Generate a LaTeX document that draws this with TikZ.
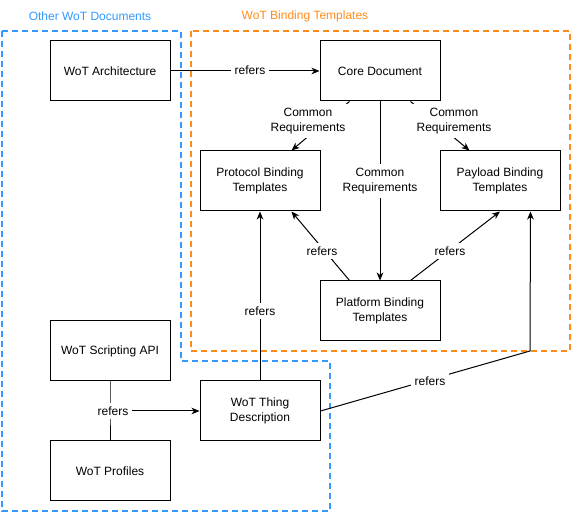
\documentclass[tikz,border=0pt]{standalone}
\usepackage{fontspec}
\setmainfont{Liberation Sans}
\usetikzlibrary{arrows.meta,calc}
\definecolor{wotblue}{HTML}{3399FF}
\definecolor{wotorange}{HTML}{FF8C1A}
\begin{document}
\begin{tikzpicture}[x=0.75pt,y=-0.75pt, font=\fontsize{9}{11}\selectfont,
 box/.style={draw, line width=0.75pt, fill=white, minimum width=90pt, minimum height=45pt, align=center, inner sep=0pt},
 conn/.style={line width=0.75pt, -{Stealth[length=6pt,width=5pt,inset=1.8pt]}},
 plain/.style={line width=0.75pt},
 lbl/.style={fill=white, inner xsep=3pt, inner ysep=3pt, align=center},
 region/.style={line width=1.5pt, dash pattern=on 4.5pt off 3pt}]
\useasboundingbox (0,0) rectangle (572,513);

% regions
\draw[region, wotblue] (2,31) -- (181,31) -- (181,361) -- (330,361) -- (330,511) -- (2,511) -- cycle;
\draw[region, wotorange] (191,31) rectangle (570,351);
\node[text=wotblue] (tblue) at (90,16) {Other WoT Documents};
\node[text=wotorange] (torange) at (305,16) {WoT Binding Templates};

% boxes
\node[box] (arch) at (110,71) {WoT Architecture};
\node[box] (core) at (380,71) {Core Document};
\node[box] (prot) at (260,181) {Protocol Binding\\Templates};
\node[box] (pay) at (500,181) {Payload Binding\\Templates};
\node[box] (plat) at (380,311) {Platform Binding\\Templates};
\node[box] (script) at (110,351) {WoT Scripting API};
\node[box] (td) at (260,411) {WoT Thing\\Description};
\node[box] (prof) at (110,471) {WoT Profiles};

% connectors
\draw[conn] (arch.east) -- (core.west);
\node[lbl] (l1) at (250,70) {refers};

\draw[conn] ($(core.south west)+(30,0)$) -- ($(prot.north east)+(-29,0)$);
\node[lbl] (l2) at (308,121) {Common\\Requirements};

\draw[conn] ($(core.south east)+(-30,0)$) -- ($(pay.north west)+(30,0)$);
\node[lbl] (l3) at (454,121) {Common\\Requirements};

\draw[conn] (core.south) -- (plat.north);
\node[lbl] (l4) at (380,181) {Common\\Requirements};

\draw[conn] ($(plat.north west)+(30,0)$) -- ($(prot.south east)+(-29,0)$);
\node[lbl] (l5) at (322,251) {refers};

\draw[conn] ($(plat.north east)+(-30,0)$) -- (pay.south);
\node[lbl] (l6) at (450,251) {refers};

\draw[conn] (td.north) -- (prot.south);
\node[lbl] (l7) at (260,311) {refers};

\coordinate (bend) at (530,351);
\draw[conn] (td.east) -- (bend) -- ($(pay.south east)+(-30,0)$);
\node[lbl] (l8) at (430,381) {refers};

\coordinate (j) at (110,411);
\draw[plain] (script.south) -- (j) -- (prof.north);
\draw[conn] (j) -- (td.west);
\node[lbl] (l9) at (113,411) {refers};
\end{tikzpicture}
\end{document}
